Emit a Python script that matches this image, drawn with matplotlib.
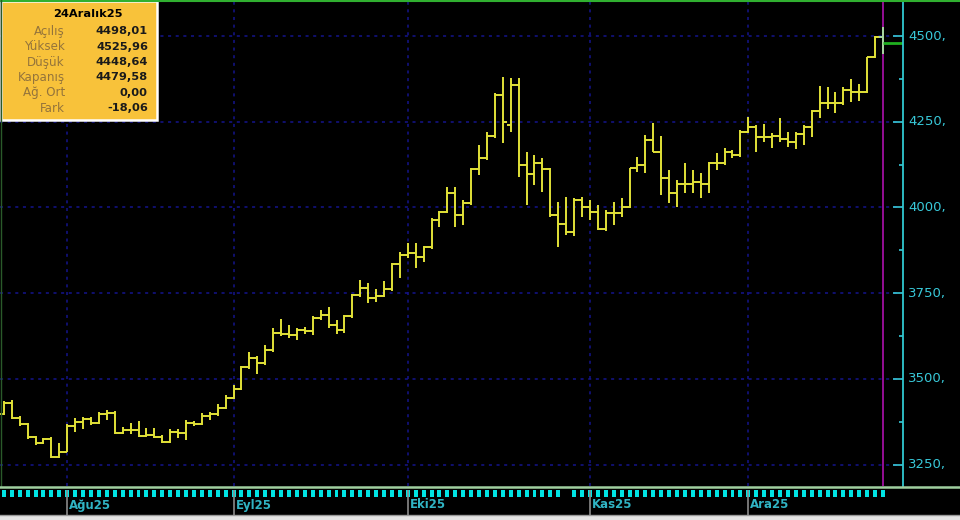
import numpy as np
import pandas as pd
import matplotlib
matplotlib.use('Agg')
import matplotlib.pyplot as plt
import matplotlib.transforms as mtransforms
from matplotlib.patches import Rectangle
from matplotlib.lines import Line2D

# gunluk bar verisi, 21 Temmuz - 24 Aralik 2025
days = pd.bdate_range('2025-07-21', '2025-12-24')
no_tick_days = ['2025-10-29']   # alt seritte isareti olmayan gun

opens = [3400, 3397, 3430, 3386, 3368, 3330, 3313, 3324, 3272, 3287,
         3362, 3374, 3383, 3371, 3397, 3400, 3342, 3351, 3351, 3333,
         3336, 3330, 3316, 3345, 3342, 3371, 3368, 3392, 3397, 3415,
         3444, 3470, 3535, 3561, 3546, 3584, 3634, 3631, 3628, 3642,
         3640, 3677, 3686, 3657, 3642, 3683, 3745, 3765, 3736, 3742,
         3762, 3835, 3861, 3867, 3855, 3885, 3963, 3987, 4042, 3978,
         4013, 4112, 4144, 4208, 4328, 4240, 4357, 4124, 4097, 4130,
         4112, 3978, 3952, 3928, 4022, 4001, 3987, 3937, 3984, 3984,
         4001, 4115, 4124, 4197, 4162, 4086, 4042, 4068, 4068, 4074,
         4068, 4130, 4130, 4162, 4153, 4220, 4235, 4205, 4205, 4208,
         4200, 4191, 4214, 4235, 4281, 4305, 4305, 4305, 4343, 4337,
         4337, 4439, 4498.01]
highs = [3410, 3435, 3438, 3392, 3371, 3333, 3327, 3330, 3313, 3368,
         3386, 3389, 3389, 3403, 3409, 3406, 3359, 3371, 3377, 3357,
         3357, 3336, 3354, 3354, 3380, 3377, 3400, 3403, 3427, 3453,
         3482, 3537, 3578, 3567, 3599, 3648, 3675, 3657, 3648, 3651,
         3683, 3701, 3710, 3672, 3686, 3747, 3788, 3780, 3762, 3785,
         3838, 3870, 3896, 3896, 3887, 3969, 3990, 4060, 4060, 4022,
         4115, 4182, 4220, 4334, 4380, 4378, 4378, 4162, 4153, 4144,
         4115, 4016, 4030, 4027, 4030, 4022, 4007, 3993, 4016, 4027,
         4115, 4147, 4211, 4246, 4208, 4109, 4080, 4130, 4109, 4100,
         4132, 4159, 4173, 4168, 4226, 4264, 4240, 4243, 4217, 4261,
         4220, 4220, 4240, 4284, 4354, 4351, 4337, 4351, 4375, 4360,
         4439, 4500, 4525.96]
lows = [3390, 3394, 3383, 3362, 3324, 3307, 3310, 3269, 3269, 3287,
        3345, 3354, 3365, 3368, 3380, 3339, 3339, 3339, 3330, 3330,
        3327, 3313, 3313, 3327, 3322, 3362, 3365, 3380, 3392, 3412,
        3441, 3467, 3529, 3514, 3540, 3578, 3625, 3619, 3613, 3631,
        3628, 3672, 3648, 3631, 3634, 3677, 3739, 3721, 3724, 3739,
        3756, 3794, 3852, 3823, 3841, 3879, 3943, 3984, 3943, 3949,
        4007, 4095, 4138, 4203, 4188, 4220, 4089, 4007, 4065, 4045,
        3972, 3885, 3920, 3917, 3972, 3963, 3934, 3931, 3949, 3972,
        3998, 4103, 4100, 4162, 4036, 4013, 4001, 4042, 4042, 4027,
        4042, 4109, 4124, 4144, 4147, 4217, 4162, 4191, 4173, 4191,
        4176, 4170, 4182, 4205, 4261, 4287, 4275, 4299, 4308, 4310,
        4334, 4436, 4448.64]
closes = [3397, 3430, 3386, 3368, 3330, 3313, 3324, 3272, 3287, 3362,
          3374, 3383, 3371, 3397, 3400, 3342, 3351, 3351, 3333, 3336,
          3330, 3316, 3345, 3342, 3371, 3368, 3392, 3397, 3415, 3444,
          3470, 3535, 3561, 3546, 3584, 3634, 3631, 3628, 3642, 3640,
          3677, 3686, 3657, 3642, 3683, 3745, 3765, 3736, 3742, 3762,
          3835, 3861, 3867, 3855, 3885, 3963, 3987, 4042, 3978, 4013,
          4112, 4144, 4208, 4328, 4249, 4357, 4124, 4097, 4130, 4112,
          3978, 3952, 3928, 4022, 4001, 3987, 3937, 3984, 3984, 4001,
          4115, 4124, 4197, 4162, 4086, 4042, 4068, 4068, 4074, 4068,
          4130, 4130, 4162, 4153, 4220, 4235, 4205, 4205, 4208, 4200,
          4191, 4214, 4235, 4281, 4305, 4305, 4305, 4343, 4337, 4337,
          4439, 4497.64, 4479.58]

y_ticks = [3250, 3500, 3750, 4000, 4250, 4500]
month_names = {8: 'Ağu', 9: 'Eyl', 10: 'Eki', 11: 'Kas', 12: 'Ara'}

info_title = '24Aralık25'
info_labels = ['Açılış', 'Yüksek', 'Düşük', 'Kapanış', 'Ağ. Ort', 'Fark']
info_values = ['4498,01', '4525,96', '4448,64', '4479,58', '0,00', '-18,06']

pos = np.arange(len(days), dtype=float)
o, h, l, c = map(np.array, (opens, highs, lows, closes))
tick_pos = np.array([p for p, d in zip(pos, days)
                     if d.strftime('%Y-%m-%d') not in no_tick_days])

W, H = 960, 520
def fx(x):
    return x / W
def fy(y):
    return 1 - y / H

fig = plt.figure(figsize=(9.6, 5.2), dpi=100, facecolor='black')

ax = fig.add_axes([0, fy(486), fx(903), (486 - 1) / H], facecolor='black')
ax.set_xlim(pos[-1] - 111.49, pos[-1] + 2.53)
ax.set_ylim(3187.3, 4602.1)
ax.set_xticks([])
ax.set_yticks([])
for s in ax.spines.values():
    s.set_visible(False)

# izgara
grid_c = '#14148c'
x0, x1 = ax.get_xlim()
ax.hlines(y_ticks, x0, x1, colors=grid_c, linestyles=(0, (2, 3)), lw=1.1)
month_pos = []
month_lbl = []
for i, d in enumerate(days):
    if i > 0 and d.month != days[i - 1].month:
        month_pos.append(pos[i])
        month_lbl.append(month_names[d.month] + d.strftime('%y'))
ax.vlines(month_pos, 3187.3, 4602.1, colors=grid_c, linestyles=(0, (2, 3)), lw=1.1)

# OHLC barlari
yel = '#e2e238'
ax.vlines(pos[:-1], l[:-1], h[:-1], colors=yel, lw=1.4)
ax.hlines(o[:-1], pos[:-1] - 0.5, pos[:-1], colors=yel, lw=1.4)
ax.hlines(c[:-1], pos[:-1], pos[:-1] + 0.5, colors=yel, lw=1.4)

# secili gun
ax.axvline(pos[-1], color='#a010a0', lw=1.3)
ax.vlines(pos[-1], l[-1], h[-1], colors='#a8d8a0', lw=1.4)
ax.hlines(o[-1], pos[-1] - 0.5, pos[-1], colors='#a8d8a0', lw=1.4)
ax.hlines(c[-1], pos[-1], x1, colors='#20b020', lw=2)

# sag eksen
cyan = '#38c8d8'
ax.hlines(y_ticks, x1 - 1.3, x1, colors=cyan, lw=1.2)
ax.hlines(np.array(y_ticks) + 125, x1 - 0.5, x1, colors=cyan, lw=1.2)
tr = mtransforms.blended_transform_factory(fig.transFigure, ax.transData)
for v in y_ticks:
    ax.text(fx(908), v, f'{v},', transform=tr, color=cyan, fontsize=9.5,
            va='center', ha='left', clip_on=False)

fig.add_artist(Line2D([fx(903), fx(903)], [fy(486), fy(0)], color='#30c8d0', lw=1.3))
fig.add_artist(Line2D([0, 1], [fy(1), fy(1)], color='#30b030', lw=1.5))
fig.add_artist(Line2D([fx(0.5), fx(0.5)], [fy(486), fy(0)], color='#2a5a2a', lw=1))
fig.add_artist(Line2D([0, 1], [fy(486.5), fy(486.5)], color='#a0d0a0', lw=1.8))

# alt serit: gun isaretleri ve aylar
ax2 = fig.add_axes([0, fy(515), fx(903), 29 / H], facecolor='black')
ax2.set_xlim(ax.get_xlim())
ax2.set_ylim(29, 0)
ax2.set_xticks([])
ax2.set_yticks([])
for s in ax2.spines.values():
    s.set_visible(False)
ax2.bar(tick_pos, 7, bottom=4, width=0.5, color='#00e4e4')
ax2.vlines(month_pos, 4, 29, colors='#8a8a8a', lw=1.2)
for mp, ml in zip(month_pos, month_lbl):
    ax2.text(mp + 0.25, 19, ml, color='#30b4c4', fontsize=8.5,
             fontweight='bold', va='center', ha='left')

fig.add_artist(Rectangle((0, 0), 1, fy(515), transform=fig.transFigure,
                         fc='#e4e4e4', ec='none'))
fig.add_artist(Line2D([0, 1], [fy(515), fy(515)], color='#9a9a9a', lw=1))

# bilgi kutusu
fig.add_artist(Rectangle((fx(1), fy(120)), fx(156), 119 / H, transform=fig.transFigure,
                         fc='#f8c23a', ec='white', lw=1.8))
fig.text(fx(88), fy(14), info_title, fontsize=8.2, fontweight='bold',
         color='black', ha='center', va='center')
for i, (lb, vl) in enumerate(zip(info_labels, info_values)):
    yy = 31.5 + i * 15.3
    fig.text(fx(65), fy(yy), lb, fontsize=8.6, color='#94743a', ha='right', va='center')
    fig.text(fx(148), fy(yy), vl, fontsize=8.2, fontweight='bold', color='#1a1a1a',
             ha='right', va='center')

fig.savefig('out.png', dpi=100, facecolor='black')
